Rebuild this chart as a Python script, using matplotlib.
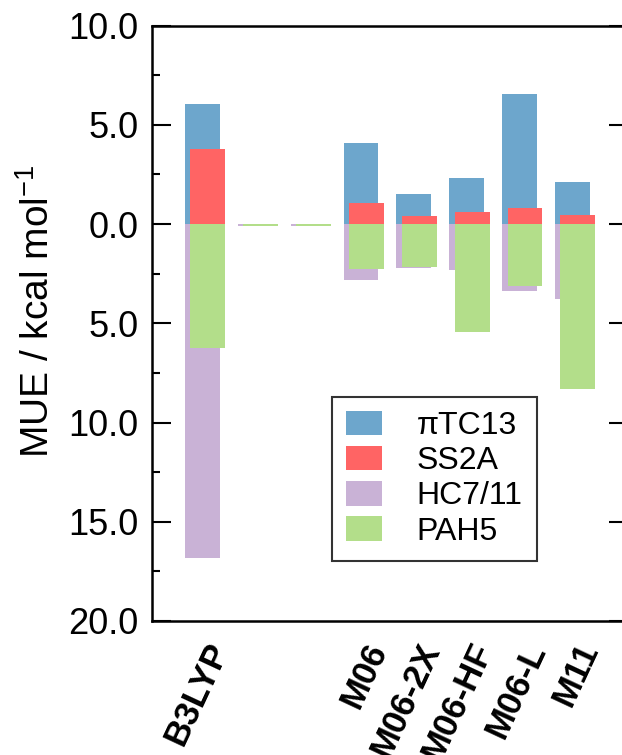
import numpy as np
import matplotlib
matplotlib.use("Agg")
import matplotlib.pyplot as plt
from matplotlib.ticker import MultipleLocator, FuncFormatter

plt.rcParams['font.family'] = ['Liberation Sans', 'DejaVu Sans']
plt.rcParams['mathtext.default'] = 'regular'

# дані (MUE, kcal/mol); від'ємні значення малюються вниз
methods = ['B3LYP', '', '', 'M06', 'M06-2X', 'M06-HF', 'M06-L', 'M11']
pitc13 = [6.06, 0.0, 0.0, 4.09, 1.54, 2.31, 6.55, 2.14]
ss2a = [3.79, 0.0, 0.0, 1.07, 0.42, 0.63, 0.82, 0.45]
hc711 = [16.82, 0.1, 0.1, 2.83, 2.22, 2.33, 3.39, 3.78]
pah5 = [6.25, 0.1, 0.1, 2.25, 2.15, 5.44, 3.14, 8.33]

series_names = ['\u03c0TC13', 'SS2A', 'HC7/11', 'PAH5']
colors = ['#6DA6CC', '#FF6464', '#C9B2D6', '#B3DE8A']

x = np.arange(len(methods))
w = 0.66
d = 0.052

fig = plt.figure(figsize=(6.22, 7.55), dpi=100)
ax = fig.add_axes([0.2449, 0.1775, 0.7647, 0.7885])

ax.bar(x - d, pitc13, w, color=colors[0], label=series_names[0])
ax.bar(x + d, ss2a, w, color=colors[1], label=series_names[1])
ax.bar(x - d, -np.array(hc711), w, color=colors[2], label=series_names[2])
ax.bar(x + d, -np.array(pah5), w, color=colors[3], label=series_names[3])

ax.set_xlim(-1.0, 8.0)
ax.set_ylim(-20, 10)

# осі та поділки
ax.yaxis.set_major_locator(MultipleLocator(5))
ax.yaxis.set_minor_locator(MultipleLocator(2.5))
ax.yaxis.set_major_formatter(FuncFormatter(lambda v, p: f"{abs(v):.1f}"))
ax.tick_params(axis='y', which='major', direction='in', length=14, width=1.5,
               labelsize=26, pad=10, right=True)
ax.tick_params(axis='y', which='minor', direction='in', length=6, width=1.5)
ax.yaxis.set_tick_params(which='minor', right=False)

ax.set_xticks(x)
ax.set_xticklabels(methods, rotation=65, ha='right', rotation_mode='anchor',
                   fontsize=25, fontweight='bold')
ax.tick_params(axis='x', length=0, pad=12)

for s in ax.spines.values():
    s.set_linewidth(1.8)

ax.set_ylabel('MUE / kcal mol$^{-1}$', fontsize=28)
ax.yaxis.set_label_coords(-0.2, 0.52)

leg = ax.legend(loc='upper left', bbox_to_anchor=(0.378, 0.377), fontsize=23,
                frameon=True, fancybox=False, edgecolor='black',
                handlelength=1.1, handleheight=0.8, handletextpad=1.1,
                labelspacing=0.15, borderpad=0.45, borderaxespad=0)
leg.get_frame().set_linewidth(1.5)

fig.savefig('out.png', dpi=100)
